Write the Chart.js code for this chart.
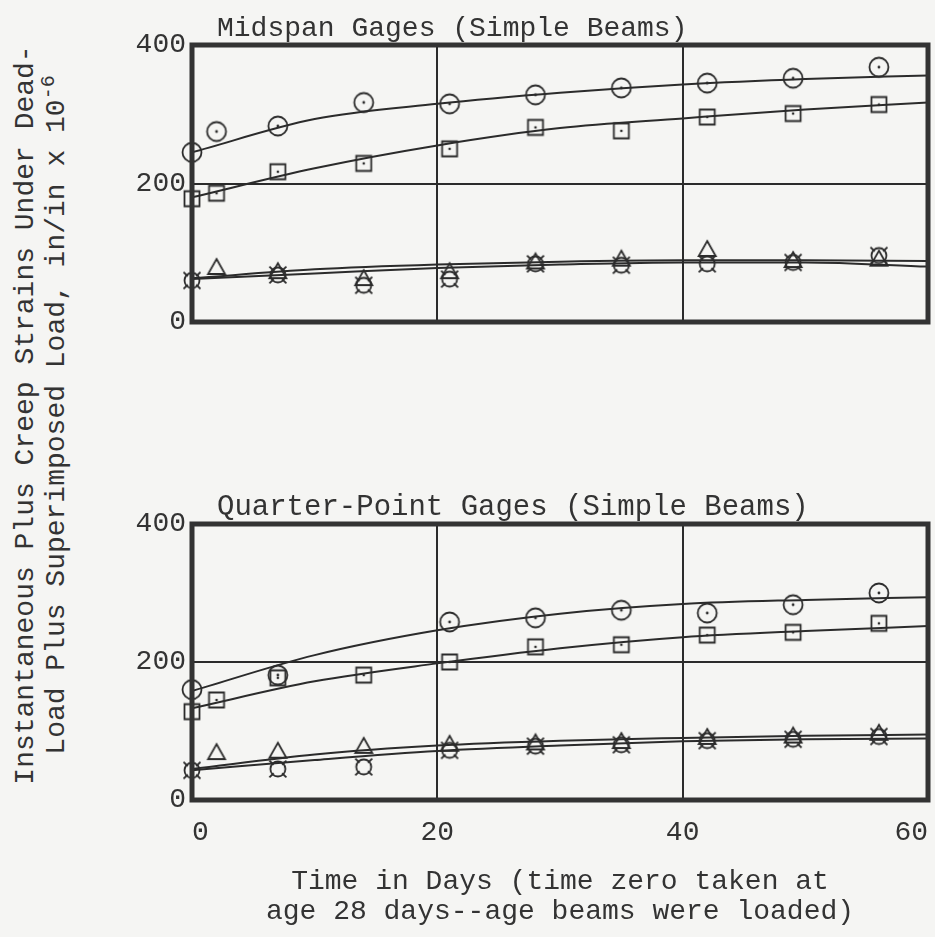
<!DOCTYPE html>
<html>
<head>
<meta charset="utf-8">
<script src="https://cdn.jsdelivr.net/npm/chart.js@4.4.1/dist/chart.umd.min.js"></script>
<style>
  body { margin: 0; background: #f5f5f3; }
  #wrap { position: relative; width: 935px; height: 937px; overflow: hidden;
          font-family: "Liberation Mono", monospace; color: #333; }
  #midPanel { position: absolute; left: 0; top: 0; }
  #quarterPanel { position: absolute; left: 0; top: 480px; }
  #yTitle { position: absolute; width: 780px; height: 64px; left: -348px; top: 383px;
            transform: rotate(-90deg); text-align: center; font-size: 28px;
            line-height: 31px; white-space: nowrap; }
  #yTitle sup { font-size: 20px; line-height: 0; }
</style>
</head>
<body>
<div id="wrap">
  <div id="yTitle">Instantaneous Plus Creep Strains Under Dead-<br>Load Plus Superimposed Load, in/in x 10<sup>-6</sup></div>
  <canvas id="midPanel" width="935" height="345"></canvas>
  <canvas id="quarterPanel" width="935" height="457"></canvas>
</div>
<script>
// === Readings (days after loading) ===
const days = [0, 2, 7, 14, 21, 28, 35, 42, 49, 56];

// Midspan gages
const midCircle   = [245, 275, 283, 317, 315, 328, 338, 345, 352, 368];
const midSquare   = [178, 186, 217, 229, 250, 281, 276, 296, 301, 314];
const midTriangle = [null, 78, 72, 62, 72, 86, 90, 104, 88, 90];
const midSpoke    = [60, null, 68, 53, 62, 84, 82, 84, 86, 96];

// Quarter-point gages
const quarterCircle   = [160, null, 181, null, 258, 264, 275, 271, 283, 300];
const quarterSquare   = [128, 145, 177, 181, 200, 222, 225, 239, 243, 256];
const quarterTriangle = [null, 68, 70, 77, 80, 82, 84, 90, 92, 96];
const quarterSpoke    = [43, null, 45, 48, 72, 78, 80, 86, 88, 92];

// === Faired curves through the readings ===
const curveDays = [0, 10, 20, 30, 40, 50, 60];
const midCircleFit  = [245, 293, 315, 331, 343, 351, 356];
const midSquareFit  = [180, 222, 255, 280, 294, 307, 317];
const midLowFitA    = [63, 76, 83, 87, 89, 89, 88];
const midLowFitB    = [62, 70, 78, 83, 86, 86, 80];
const quarterCircleFit = [158, 210, 246, 270, 284, 290, 294];
const quarterSquareFit = [133, 172, 198, 220, 236, 245, 252];
const quarterLowFitA   = [45, 66, 79, 86, 90, 93, 95];
const quarterLowFitB   = [43, 58, 71, 79, 85, 88, 89];

const xTicks = [0, 20, 40, 60];
const yTicks = [0, 200, 400];

const ink = '#2b2b2b';
const typeFont = '"Liberation Mono", "DejaVu Sans Mono", monospace';

// small canvas images used as point styles
function makeMarker(kind) {
    const c = document.createElement('canvas');
    c.width = 26; c.height = 26;
    const g = c.getContext('2d');
    g.strokeStyle = ink;
    g.fillStyle = ink;
    g.lineWidth = 1.8;
    g.beginPath();
    if (kind === 'circleDot') {
        g.arc(13, 13, 9.5, 0, Math.PI * 2);
        g.stroke();
        g.beginPath(); g.arc(13, 13, 1.4, 0, Math.PI * 2); g.fill();
    } else if (kind === 'squareDot') {
        g.rect(5.5, 5.5, 15, 15);
        g.stroke();
        g.beginPath(); g.arc(13, 13, 1.3, 0, Math.PI * 2); g.fill();
    } else if (kind === 'triangle') {
        g.moveTo(13, 4); g.lineTo(21.5, 19); g.lineTo(4.5, 19); g.closePath();
        g.stroke();
    } else if (kind === 'spoke') {
        g.arc(13, 13, 7.5, 0, Math.PI * 2);
        g.stroke();
        [45, 135, 225, 315].forEach(a => {
            const r = a * Math.PI / 180;
            g.beginPath();
            g.moveTo(13 + Math.cos(r) * 6, 13 + Math.sin(r) * 6);
            g.lineTo(13 + Math.cos(r) * 12, 13 + Math.sin(r) * 12);
            g.stroke();
        });
    }
    return c;
}

const markers = {
    circleDot: makeMarker('circleDot'),
    squareDot: makeMarker('squareDot'),
    triangle: makeMarker('triangle'),
    spoke: makeMarker('spoke')
};

function pointsOf(values) {
    return days.map((d, i) => ({ x: d, y: values[i] })).filter(p => p.y !== null);
}

function curveOf(values) {
    return curveDays.map((d, i) => ({ x: d, y: values[i] }));
}

function pointSet(values, style) {
    return {
        data: pointsOf(values),
        pointStyle: markers[style],
        pointRadius: 10,
        showLine: false,
        clip: false
    };
}

function curveSet(values) {
    return {
        data: curveOf(values),
        showLine: true,
        borderColor: ink,
        borderWidth: 2,
        pointRadius: 0,
        tension: 0.4,
        cubicInterpolationMode: 'monotone'
    };
}

// heavy frame around the plotting area plus the panel heading
const framePlugin = {
    id: 'frame',
    afterDatasetsDraw(chart) {
        const { ctx, chartArea: a } = chart;
        ctx.save();
        ctx.strokeStyle = '#333';
        ctx.lineWidth = 5;
        ctx.strokeRect(a.left, a.top, a.right - a.left, a.bottom - a.top);
        ctx.restore();
    },
    afterDraw(chart, args, opts) {
        const { ctx, chartArea: a } = chart;
        ctx.save();
        ctx.fillStyle = '#333';
        ctx.font = opts.size + 'px ' + typeFont;
        ctx.textBaseline = 'alphabetic';
        ctx.fillText(opts.text, a.left + 25, a.top - 9);
        ctx.restore();
    }
};

function buildPanel(canvasId, heading, headingSize, datasets, showX, padTop, xHeight) {
    const ctx = document.getElementById(canvasId).getContext('2d');
    return new Chart(ctx, {
        type: 'scatter',
        data: { datasets: datasets },
        plugins: [framePlugin],
        options: {
            responsive: false,
            animation: false,
            events: [],
            layout: {
                autoPadding: false,
                padding: { left: 0, top: padTop, right: 7, bottom: 0 }
            },
            plugins: {
                legend: { display: false },
                tooltip: { enabled: false },
                frame: { text: heading, size: headingSize }
            },
            scales: {
                x: {
                    type: 'linear',
                    min: 0, max: 60,
                    afterBuildTicks: s => { s.ticks = xTicks.map(v => ({ value: v })); },
                    afterFit: s => {
                        s.height = xHeight;
                        s.paddingLeft = 0;
                        s.paddingRight = 0;
                    },
                    grid: { color: ink, lineWidth: 2, drawTicks: false },
                    border: { display: false },
                    ticks: {
                        display: showX,
                        align: 'inner',
                        padding: 16,
                        color: '#333',
                        font: { family: typeFont, size: 28 }
                    },
                    title: {
                        display: showX,
                        text: ['Time in Days (time zero taken at', 'age 28 days--age beams were loaded)'],
                        color: '#333',
                        font: { family: typeFont, size: 28, lineHeight: 1.08 },
                        padding: { top: 0, bottom: 10 }
                    }
                },
                y: {
                    type: 'linear',
                    min: 0, max: 400,
                    afterBuildTicks: s => { s.ticks = yTicks.map(v => ({ value: v })); },
                    afterFit: s => { s.width = 192; },
                    grid: { color: ink, lineWidth: 2, drawTicks: false },
                    border: { display: false },
                    ticks: {
                        padding: 6,
                        color: '#333',
                        font: { family: typeFont, size: 28 }
                    }
                }
            }
        }
    });
}

window.midChart = buildPanel('midPanel', 'Midspan Gages (Simple Beams)', 28, [
    curveSet(midCircleFit), curveSet(midSquareFit),
    curveSet(midLowFitA), curveSet(midLowFitB),
    pointSet(midCircle, 'circleDot'), pointSet(midSquare, 'squareDot'),
    pointSet(midTriangle, 'triangle'), pointSet(midSpoke, 'spoke')
], false, 45, 23);

window.quarterChart = buildPanel('quarterPanel', 'Quarter-Point Gages (Simple Beams)', 29, [
    curveSet(quarterCircleFit), curveSet(quarterSquareFit),
    curveSet(quarterLowFitA), curveSet(quarterLowFitB),
    pointSet(quarterCircle, 'circleDot'), pointSet(quarterSquare, 'squareDot'),
    pointSet(quarterTriangle, 'triangle'), pointSet(quarterSpoke, 'spoke')
], true, 44, 137);
</script>
</body>
</html>
